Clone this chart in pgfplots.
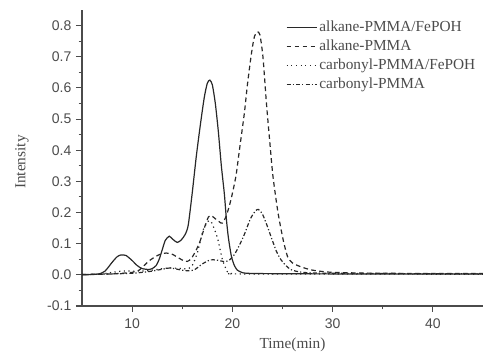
\documentclass[border=0pt]{standalone}
\usepackage{pgfplots}
\pgfplotsset{compat=1.18}
\usepackage{fontspec}
\setmainfont{Liberation Serif}
\newfontfamily\tickfont{Liberation Sans}
\definecolor{ink}{RGB}{40,40,40}
\definecolor{axc}{RGB}{75,75,75}
\begin{document}
\begin{tikzpicture}
\useasboundingbox (-61.5pt,-35.25pt) rectangle (300.75pt,229.5pt);
\begin{axis}[
  at={(0,0)}, anchor=south west,
  scale only axis, width=300.75pt, height=222pt,
  xmin=5, xmax=45, ymin=-0.1, ymax=0.85,
  axis lines*=left,
  axis line style={axc, line width=0.9pt},
  tick align=outside,
  major tick length=4.5pt, minor tick length=2.5pt,
  every tick/.style={axc, line width=0.8pt},
  xtick={10,20,30,40}, minor x tick num=1,
  ytick={-0.1,0,0.1,0.2,0.3,0.4,0.5,0.6,0.7,0.8}, minor y tick num=1,
  /pgf/number format/assume math mode=true,
  ticklabel style={font=\tickfont\fontsize{10.5}{12}\selectfont, text=axc},
  yticklabel style={/pgf/number format/fixed, /pgf/number format/fixed zerofill, /pgf/number format/precision=1},
  xticklabel style={yshift=-1.5pt},
  xlabel={Time(min)}, ylabel={Intensity},
  xlabel style={at={(axis description cs:0.525,-0.13)}, anchor=center, inner sep=0pt, font=\fontsize{11.5}{13}\selectfont, text=axc},
  ylabel style={at={(axis description cs:-0.15,0.486)}, anchor=center, inner sep=0pt, font=\fontsize{11.5}{13}\selectfont, text=axc},
  legend style={draw=none, fill=none, inner sep=0pt, at={(axis description cs:0.508,0.975)}, anchor=north west,
    font=\fontsize{11.5}{14}\selectfont, text=axc, row sep=0pt,
    nodes={inner sep=1.2pt, text height=9pt, text depth=2.85pt}},
  legend cell align=left,
  legend image code/.code={\draw[#1] (0pt,0pt) -- (23pt,0pt);},
  every axis plot/.append style={line width=0.9pt, smooth, tension=0.4},
]
\addplot[ink] coordinates {
(5,0) (6,0.001) (6.7,0.003) (7.3,0.012) (8.0,0.04) (8.5,0.058) (8.9,0.064) (9.4,0.062)
(10.0,0.046) (10.5,0.03) (11.0,0.02) (11.7,0.017) (12.0,0.02) (12.4,0.03) (12.7,0.05)
(13.0,0.08) (13.3,0.11) (13.7,0.124) (14.1,0.113) (14.5,0.104) (14.9,0.112) (15.3,0.13)
(15.6,0.16) (16.0,0.264) (16.4,0.38) (16.8,0.48) (17.2,0.57) (17.5,0.615) (17.75,0.625)
(18.0,0.61) (18.3,0.55) (18.6,0.46) (18.9,0.35) (19.2,0.26) (19.4,0.18) (19.6,0.12)
(19.9,0.06) (20.2,0.03) (20.5,0.015) (21.0,0.007) (21.5,0.005) (23,0.004) (30,0.003) (45,0.003)
};
\addlegendentry{alkane-PMMA/FePOH}
\addplot[ink, dash pattern=on 3.5pt off 2.5pt] coordinates {
(5,0.001) (7,0.002) (8,0.003) (9,0.005) (10,0.008) (10.7,0.015) (11.2,0.03) (11.7,0.045)
(12.3,0.058) (12.8,0.066) (13.4,0.07) (14.0,0.066) (14.6,0.055) (15.1,0.046) (15.5,0.043)
(15.9,0.052) (16.4,0.08) (16.8,0.11) (17.2,0.15) (17.6,0.185) (17.9,0.19) (18.3,0.18)
(18.7,0.17) (19.0,0.166) (19.4,0.19) (19.85,0.24) (20.35,0.316) (20.7,0.40) (21.2,0.52)
(21.5,0.61) (21.9,0.71) (22.2,0.765) (22.5,0.78) (22.75,0.77) (23.05,0.70) (23.4,0.55)
(23.75,0.42) (24.05,0.316) (24.55,0.20) (25.05,0.115) (25.5,0.059) (26.0,0.038) (26.9,0.025)
(28,0.015) (30,0.008) (35,0.005) (45,0.004)
};
\addlegendentry{alkane-PMMA}
\addplot[ink, dash pattern=on 0.9pt off 2.6pt] coordinates {
(5,0.001) (7,0.003) (8,0.008) (9,0.012) (10,0.012) (11,0.012) (12,0.015) (13,0.02)
(14,0.022) (15,0.02) (15.6,0.02) (16.0,0.03) (16.5,0.07) (17.1,0.145) (17.6,0.172)
(17.9,0.17) (18.5,0.12) (19.0,0.05) (19.5,0.01) (20.0,0.004) (21,0.003) (45,0.002)
};
\addlegendentry{carbonyl-PMMA/FePOH}
\addplot[ink, dash pattern=on 3pt off 1.6pt on 0.9pt off 1.6pt] coordinates {
(5,0.001) (8,0.003) (10,0.005) (11,0.008) (12,0.012) (13,0.018) (13.8,0.022) (14.5,0.018)
(15.2,0.014) (15.8,0.013) (16.3,0.018) (17.0,0.035) (17.8,0.048) (18.5,0.047) (19.1,0.043)
(19.6,0.045) (20.2,0.065) (20.7,0.095) (21.2,0.13) (21.8,0.18) (22.3,0.205) (22.6,0.21)
(23.0,0.195) (23.5,0.155) (23.85,0.123) (24.4,0.075) (24.86,0.048) (25.4,0.028) (25.9,0.016)
(27,0.008) (30,0.005) (45,0.003)
};
\addlegendentry{carbonyl-PMMA}
\end{axis}
\end{tikzpicture}
\end{document}
